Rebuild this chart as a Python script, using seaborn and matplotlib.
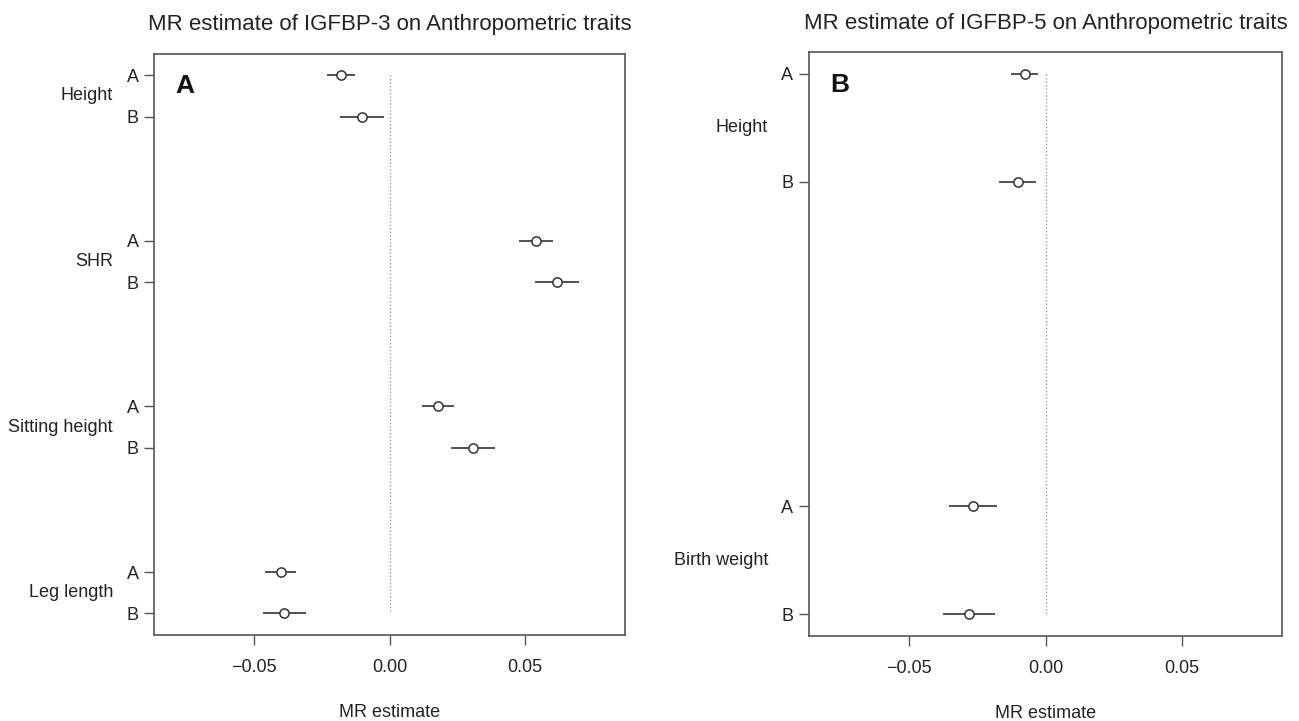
import numpy as np
import pandas as pd
import matplotlib
matplotlib.use("Agg")
import matplotlib.pyplot as plt
import matplotlib.transforms as mtrans
import seaborn as sns

# ---------------- data ----------------
title_a = "MR estimate of IGFBP-3 on Anthropometric traits"
traits_a = ["Height", "SHR", "Sitting height", "Leg length"]
methods = ["A", "B"]
est_a = [-0.0178, -0.0101, 0.0540, 0.0615, 0.0180, 0.0307, -0.0400, -0.0388]
lo_a = [-0.0230, -0.0182, 0.0478, 0.0534, 0.0119, 0.0225, -0.0457, -0.0467]
hi_a = [-0.0126, -0.0022, 0.0602, 0.0696, 0.0236, 0.0388, -0.0346, -0.0308]

title_b = "MR estimate of IGFBP-5 on Anthropometric traits"
traits_b = ["Height", "Birth weight"]
est_b = [-0.0076, -0.0102, -0.0265, -0.0279]
lo_b = [-0.0128, -0.0170, -0.0355, -0.0374]
hi_b = [-0.0027, -0.0034, -0.0176, -0.0186]

xticks = [-0.05, 0.00, 0.05]
xtick_labels = ["\u22120.05", "0.00", "0.05"]
xlabel = "MR estimate"
panel_letters = ["A", "B"]

# ---------------- style ----------------
sns.set_theme(style="white")
plt.rcParams["font.family"] = ["Liberation Sans", "DejaVu Sans"]
TXT = "#222222"
LINE = "#333333"
SPINE = "#555555"


def make_df(traits, est, lo, hi):
    rows = []
    k = 0
    for gi, t in enumerate(traits):
        for mi, m in enumerate(methods):
            rows.append(dict(trait=t, method=m, est=est[k], lo=lo[k], hi=hi[k],
                             pos=gi * 4 + mi))
            k += 1
    return pd.DataFrame(rows)


def draw(ax, df, title, letter):
    ax.hlines(df["pos"], df["lo"], df["hi"], color=LINE, lw=1.2, zorder=2)
    sns.scatterplot(data=df, x="est", y="pos", ax=ax, marker="o", s=44,
                    facecolor="white", edgecolor=LINE, linewidth=1.1, zorder=3,
                    legend=False)
    ymin, ymax = df["pos"].min(), df["pos"].max()
    ax.vlines(0, ymin, ymax, color="#9a9a9a", lw=1.0, linestyles=(0, (1, 1.5)), zorder=1)
    pad = (ymax - ymin) * 0.04
    ax.set_ylim(ymax + pad, ymin - pad)
    ax.set_xlim(-0.0867, 0.0867)
    ax.set_yticks(df["pos"])
    ax.set_yticklabels(df["method"])
    ax.set_xticks(xticks)
    ax.set_xticklabels(xtick_labels)
    ax.tick_params(axis="both", which="both", direction="out", length=7.2,
                   width=1.0, color=SPINE, labelsize=13, labelcolor=TXT,
                   bottom=True, left=True, top=False, right=False)
    ax.tick_params(axis="y", pad=4)
    ax.tick_params(axis="x", pad=10)
    ax.set_xlabel(xlabel, fontsize=13, color=TXT, labelpad=20)
    ax.set_ylabel("")
    ax.set_title(title, fontsize=16, color=TXT, pad=17)
    for s in ax.spines.values():
        s.set_visible(True)
        s.set_color(SPINE)
        s.set_linewidth(1.2)
    trans = mtrans.blended_transform_factory(ax.transAxes, ax.transData)
    for t, g in df.groupby("trait", sort=False):
        ymid = g["pos"].mean()
        ax.annotate(t, xy=(0, ymid), xycoords=trans, xytext=(-41, 0),
                    textcoords="offset pixels", ha="right", va="center",
                    fontsize=13, color=TXT)
    ax.text(0.045, 0.965, letter, transform=ax.transAxes, ha="left", va="top",
            fontsize=19, fontweight="bold", color="#111111")


fig = plt.figure(figsize=(12.99, 7.21), dpi=100)
ax1 = fig.add_axes([0.1186, 0.1193, 0.3625, 0.8062])
ax2 = fig.add_axes([0.6228, 0.1179, 0.3641, 0.8096])

draw(ax1, make_df(traits_a, est_a, lo_a, hi_a), title_a, panel_letters[0])
draw(ax2, make_df(traits_b, est_b, lo_b, hi_b), title_b, panel_letters[1])

fig.savefig("out.png", dpi=100, facecolor="white")
